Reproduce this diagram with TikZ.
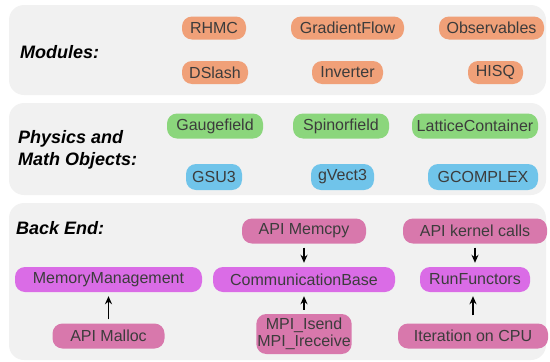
\documentclass[tikz,border=0pt]{standalone}
\usepackage{fontspec}
\setmainfont{Liberation Sans}
\usetikzlibrary{arrows.meta}
\definecolor{panelgray}{HTML}{F1F1F1}
\definecolor{modorange}{HTML}{F0A078}
\definecolor{objgreen}{HTML}{8BD67C}
\definecolor{objblue}{HTML}{70C4EA}
\definecolor{apipink}{HTML}{D878AC}
\definecolor{coremagenta}{HTML}{DA6CE6}
\definecolor{boxtext}{HTML}{3C3C3C}
\tikzset{panel/.style = {fill=panelgray, rounded corners=15pt}}
\tikzset{heading/.style = {anchor=west, align=left, inner sep=0pt, font=\fontsize{18}{22}\selectfont\bfseries\itshape}}
\tikzset{box/.style = {rounded corners=10pt, inner xsep=1pt, inner ysep=2pt, minimum height=23pt, text=boxtext, font=\fontsize{16}{18}\selectfont}}
\tikzset{module/.style = {box, fill=modorange}}
\tikzset{field/.style = {box, fill=objgreen, minimum height=25pt}}
\tikzset{basic/.style = {box, fill=objblue, minimum height=26pt}}
\tikzset{api/.style = {box, fill=apipink, minimum height=25pt}}
\tikzset{core/.style = {box, fill=coremagenta, minimum height=25pt}}
\tikzset{arr/.style = {-{Stealth[length=8pt,width=7pt]}, line width=1.5pt, shorten >=4pt, shorten <=4pt}}

\begin{document}
\begin{tikzpicture}[x=1pt,y=-1pt]
	\useasboundingbox (0,0) rectangle (550,362);
	% the three layers
	\fill [panel] (9,5) rectangle (546,95);
	\fill [panel] (9,103) rectangle (546,195);
	\fill [panel] (9,203) rectangle (546,360);
	\node [heading] (modlabel) at (20,52) {Modules:};
	\node [heading] (objlabel) at (18,150) {Physics and\\Math Objects:};
	\node [heading] (backlabel) at (16,228) {Back End:};
	% modules
	\node [module, minimum width=64pt] (rhmc) at (214,28) {RHMC};
	\node [module, minimum width=66pt] (dslash) at (215,72.5) {DSlash};
	\node [module, minimum width=113pt] (gflow) at (347.5,28) {GradientFlow};
	\node [module, minimum width=71pt] (inverter) at (347.5,72.5) {Inverter};
	\node [module, minimum width=105pt] (observ) at (491.5,28) {Observables};
	\node [module, minimum width=55pt] (hisq) at (495.5,72.5) {HISQ};
	% objects
	\node [field, minimum width=96pt] (gauge) at (215,126) {Gaugefield};
	\node [field, minimum width=96pt] (spinor) at (341,126) {Spinorfield};
	\node [field, minimum width=126pt] (latcont) at (475,126) {LatticeContainer};
	\node [basic, minimum width=56pt] (gsu3) at (214,177) {GSU3};
	\node [basic, minimum width=63pt] (gvect3) at (342.5,177) {gVect3};
	\node [basic, minimum width=110pt] (gcomplex) at (483,177) {GCOMPLEX};
	% back end
	\node [core, minimum width=187pt] (memman) at (108.5,279.5) {MemoryManagement};
	\node [api, minimum width=112pt] (malloc) at (108.5,336) {API Malloc};
	\node [api, minimum width=124pt] (memcpy) at (304,231) {API Memcpy};
	\node [core, minimum width=182pt] (commbase) at (304,279.5) {CommunicationBase};
	\node [api, minimum width=94pt, minimum height=40pt, align=center, font=\fontsize{16}{17}\selectfont] (mpi) at (304,334) {MPI\_Isend\\MPI\_Ireceive};
	\node [api, minimum width=144pt] (kernel) at (475,231) {API kernel calls};
	\node [core, minimum width=110pt] (runfunc) at (475,279.5) {RunFunctors};
	\node [api, minimum width=150pt] (cpuiter) at (473,336) {Iteration on CPU};
	\draw [arr] (malloc) -- (memman);
	\draw [arr] (memcpy) -- (commbase);
	\draw [arr] (mpi) -- (commbase);
	\draw [arr] (kernel) -- (runfunc);
	\draw [arr, shorten <=8pt] (cpuiter.north) -- (cpuiter.north |- runfunc.south);
\end{tikzpicture}
\end{document}
